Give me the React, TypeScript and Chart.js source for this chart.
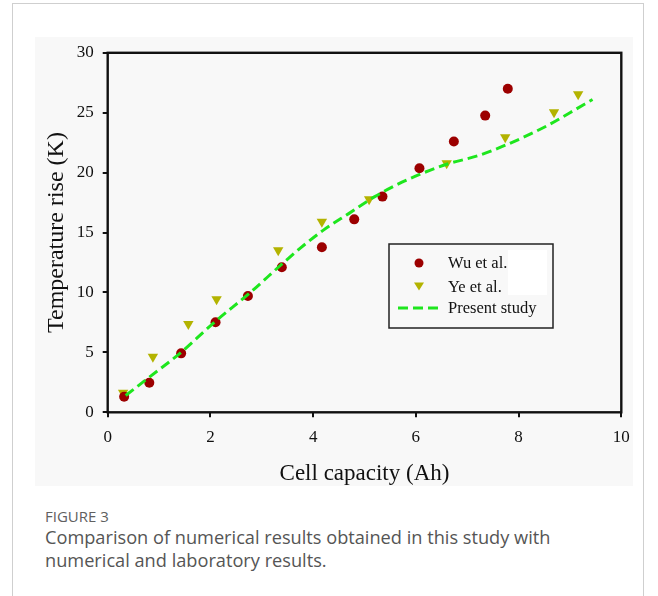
import React, { useEffect, useRef } from "react";
import { Chart, registerables } from "chart.js";

Chart.register(...registerables);

// ---- data ----
const wuX = [0.32, 0.81, 1.43, 2.1, 2.73, 3.39, 4.17, 4.8, 5.35, 6.07, 6.74, 7.35, 7.79];
const wuY = [1.3, 2.47, 4.92, 7.51, 9.71, 12.1, 13.77, 16.1, 18.0, 20.37, 22.6, 24.76, 27.0];

const yeX = [0.3, 0.88, 1.57, 2.12, 3.32, 4.17, 5.09, 6.6, 7.74, 8.69, 9.16];
const yeY = [1.64, 4.64, 7.37, 9.43, 13.52, 15.9, 17.78, 20.78, 22.95, 25.04, 26.54];

const presentX = [0.35, 0.8, 1.4, 2.1, 2.75, 3.4, 3.75, 4.2, 4.7, 5.2, 5.73, 6.1, 6.6, 7.2, 7.75, 8.55, 9.0, 9.44];
const presentY = [1.4, 2.9, 4.9, 7.6, 9.9, 12.4, 13.7, 15.2, 16.6, 18.0, 19.2, 19.9, 20.7, 21.4, 22.3, 23.9, 25.0, 26.1];

const xTicks = [0, 2, 4, 6, 8, 10];
const yTicks = [0, 5, 10, 15, 20, 25, 30];

const seriesNames = ["Wu et al.", "Ye et al.", "Present study"];
const xTitle = "Cell capacity (Ah)";
const yTitle = "Temperature rise (K)";
const captionLabel = "FIGURE 3";
const captionText = "Comparison of numerical results obtained in this study with numerical and laboratory results.";

const RED = "#9c0000";
const YEL = "#b3b300";
const GRN = "#1ee61e";
const SERIF = "'Liberation Serif', 'Times New Roman', serif";

const toPts = (xs: number[], ys: number[]) => xs.map((x, i) => ({ x, y: ys[i] }));

const framePlugin = {
  id: "frame",
  beforeDatasetsDraw(chart: any) {
    const { ctx, chartArea: a } = chart;
    ctx.save();
    ctx.strokeStyle = "#111";
    ctx.lineWidth = 2.4;
    ctx.strokeRect(a.left, a.top, a.right - a.left, a.bottom - a.top);
    ctx.restore();
  },
};

const legendPlugin = {
  id: "boxLegend",
  afterDraw(chart: any) {
    const { ctx, chartArea: a } = chart;
    const L = a.left + 281.3;
    const T = a.top + 191.2;
    const W = 164;
    const H = 84;
    ctx.save();
    ctx.fillStyle = "#f8f8f8";
    ctx.fillRect(L, T, W, H);
    ctx.fillStyle = "#ffffff";
    ctx.fillRect(L + 119, T + 6, 39, 45);
    ctx.strokeStyle = "#222";
    ctx.lineWidth = 1.5;
    ctx.strokeRect(L, T, W, H);
    const mx = L + 30;
    const tx = L + 59;
    const rows = [T + 19, T + 42.5, T + 64];
    ctx.font = `16.5px ${SERIF}`;
    ctx.fillStyle = "#111";
    ctx.textBaseline = "middle";
    ctx.textAlign = "left";
    seriesNames.forEach((n, i) => ctx.fillText(n, tx, rows[i] + 1));
    ctx.fillStyle = RED;
    ctx.beginPath();
    ctx.arc(mx, rows[0], 4.5, 0, Math.PI * 2);
    ctx.fill();
    ctx.fillStyle = YEL;
    ctx.beginPath();
    ctx.moveTo(mx - 5, rows[1] - 4);
    ctx.lineTo(mx + 5, rows[1] - 4);
    ctx.lineTo(mx, rows[1] + 4);
    ctx.closePath();
    ctx.fill();
    ctx.strokeStyle = GRN;
    ctx.lineWidth = 3;
    ctx.setLineDash([10, 5]);
    ctx.beginPath();
    ctx.moveTo(L + 9, rows[2]);
    ctx.lineTo(L + 49, rows[2]);
    ctx.stroke();
    ctx.restore();
  },
};

function ChartPanel() {
  const ref = useRef<HTMLCanvasElement | null>(null);
  useEffect(() => {
    if (!ref.current) return;
    const chart = new Chart(ref.current, {
      type: "scatter",
      data: {
        datasets: [
          {
            type: "line",
            label: seriesNames[2],
            data: toPts(presentX, presentY),
            borderColor: GRN,
            backgroundColor: GRN,
            borderWidth: 3,
            borderDash: [10, 5],
            pointRadius: 0,
            showLine: true,
            fill: false,
            cubicInterpolationMode: "monotone",
            order: 0,
          } as any,
          {
            label: seriesNames[0],
            data: toPts(wuX, wuY),
            pointStyle: "circle",
            pointRadius: 5,
            backgroundColor: RED,
            borderColor: RED,
            borderWidth: 0,
            order: 1,
          },
          {
            label: seriesNames[1],
            data: toPts(yeX, yeY),
            pointStyle: "triangle",
            rotation: 180,
            pointRadius: 6,
            backgroundColor: YEL,
            borderColor: YEL,
            borderWidth: 0,
            order: 1,
          } as any,
        ],
      },
      options: {
        responsive: false,
        animation: false,
        layout: { padding: { left: 0, right: 11.7, top: 15.8, bottom: 0 } },
        plugins: { legend: { display: false }, tooltip: { enabled: false } },
        scales: {
          x: {
            type: "linear",
            min: 0,
            max: 10,
            afterBuildTicks: (s: any) => {
              s.ticks = xTicks.map((v) => ({ value: v }));
            },
            afterFit: (s: any) => {
              s.height = 73.7;
              s.paddingLeft = 0;
              s.paddingRight = 0;
              s.paddingTop = 0;
              s.paddingBottom = 0;
            },
            border: { display: false },
            grid: { drawOnChartArea: false, drawTicks: true, tickLength: 5, color: "#111", lineWidth: 2 },
            ticks: { color: "#111", font: { family: SERIF, size: 17 }, padding: 10, maxRotation: 0 },
            title: {
              display: true,
              text: xTitle,
              color: "#111",
              font: { family: SERIF, size: 23, lineHeight: 1.0 },
              padding: { top: 0.5, bottom: 0.5 },
            },
          },
          y: {
            type: "linear",
            min: 0,
            max: 30,
            afterBuildTicks: (s: any) => {
              s.ticks = yTicks.map((v) => ({ value: v }));
            },
            afterFit: (s: any) => {
              s.width = 72.7;
              s.paddingLeft = 0;
              s.paddingRight = 0;
              s.paddingTop = 0;
              s.paddingBottom = 0;
            },
            border: { display: false },
            grid: { drawOnChartArea: false, drawTicks: true, tickLength: 5, color: "#111", lineWidth: 2 },
            ticks: { color: "#111", font: { family: SERIF, size: 17 }, padding: 9 },
            title: {
              display: true,
              text: yTitle,
              color: "#111",
              font: { family: SERIF, size: 24 },
              padding: { top: 7, bottom: 7 },
            },
          },
        },
      },
      plugins: [framePlugin, legendPlugin],
    });
    return () => chart.destroy();
  }, []);
  return <canvas ref={ref} width={598} height={449} style={{ display: "block", width: 598, height: 449 }} />;
}

export default function App() {
  useEffect(() => {
    document.body.style.margin = "0";
    document.body.style.background = "#fff";
  }, []);
  return (
    <div style={{ position: "relative", width: 658, height: 596, overflow: "hidden", background: "#fff" }}>
      <div
        style={{
          position: "absolute",
          left: 12,
          top: 3,
          width: 632,
          height: 640,
          border: "1px solid #cfcfcf",
          boxSizing: "border-box",
        }}
      />
      <div style={{ position: "absolute", left: 35, top: 37, width: 598, height: 449, background: "#f8f8f8" }}>
        <ChartPanel />
      </div>
      <div
        style={{
          position: "absolute",
          left: 45,
          top: 507,
          fontFamily: "'Open Sans', 'Noto Sans', sans-serif",
          fontSize: 15,
          lineHeight: "19px",
          color: "#606060",
        }}
      >
        {captionLabel}
      </div>
      <div
        style={{
          position: "absolute",
          left: 45,
          top: 526,
          width: 560,
          fontFamily: "'Open Sans', 'Noto Sans', sans-serif",
          fontSize: 18.2,
          lineHeight: "23px",
          color: "#555",
        }}
      >
        {captionText}
      </div>
    </div>
  );
}
